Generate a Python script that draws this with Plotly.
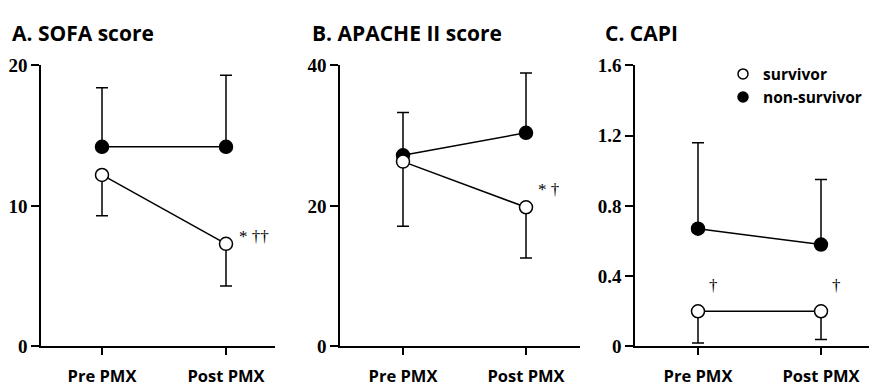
import plotly.graph_objects as go

W, H = 869, 391

# ---------------- data ----------------
groups = ["Pre PMX", "Post PMX"]

sofa_surv = [12.2, 7.3]
sofa_surv_sd = [2.9, 3.0]
sofa_non = [14.2, 14.2]
sofa_non_sd = [4.2, 5.1]

apache_surv = [26.3, 19.8]
apache_surv_sd = [9.2, 7.2]
apache_non = [27.2, 30.4]
apache_non_sd = [6.1, 8.5]

capi_surv = [0.20, 0.20]
capi_surv_sd = [0.18, 0.16]
capi_non = [0.67, 0.58]
capi_non_sd = [0.49, 0.37]

titles = ["A. SOFA score", "B. APACHE II score", "C. CAPI"]
yticks_a = [0, 10, 20]
yticks_b = [0, 20, 40]
yticks_c = [0, 0.4, 0.8, 1.2, 1.6]
yticktext_c = ["0", "0.4", "0.8", "1.2", "1.6"]
marks_a = ["", "* ††"]
marks_b = ["", "* †"]
marks_c = ["†", "†"]
legend_names = ["survivor", "non-survivor"]

# ---------------- layout helpers ----------------
def px_x(p):
    return p / W

def px_y(p):
    return (H - p) / H

Y_TOP, Y_BOT = 58.5, 355.5
panels = [
    # axis-left px, axis-right px, pre tick px, post tick px, title x px
    dict(l=41, r=275, pre=102, post=226, tx=10),
    dict(l=340, r=580, pre=403, post=526, tx=310),
    dict(l=635, r=869, pre=698, post=821, tx=603),
]

TITLE_FONT = dict(family="Open Sans", size=21, color="black", weight="bold")
XTICK_FONT = dict(family="Open Sans", size=16.5, color="black", weight="bold")
YTICK_FONT = dict(family="Liberation Serif", size=19, color="black", weight="bold")
MARK_FONT = dict(family="Liberation Serif", size=17, color="black")

fig = go.Figure()

datasets = [
    (sofa_surv, sofa_surv_sd, sofa_non, sofa_non_sd),
    (apache_surv, apache_surv_sd, apache_non, apache_non_sd),
    (capi_surv, capi_surv_sd, capi_non, capi_non_sd),
]
xs = [0, 1]

for i, (surv, surv_sd, non, non_sd) in enumerate(datasets):
    suffix = "" if i == 0 else str(i + 1)
    xa, ya = "x" + suffix, "y" + suffix
    fig.add_trace(go.Scatter(
        x=xs, y=non, xaxis=xa, yaxis=ya, mode="lines+markers",
        line=dict(color="black", width=1.5),
        marker=dict(symbol="circle", size=13, color="black",
                    line=dict(color="black", width=1.5)),
        error_y=dict(type="data", symmetric=False, array=non_sd,
                     arrayminus=[0] * len(non_sd), color="black",
                     thickness=1.5, width=6),
        showlegend=False, hoverinfo="skip"))
    fig.add_trace(go.Scatter(
        x=xs, y=surv, xaxis=xa, yaxis=ya, mode="lines+markers",
        line=dict(color="black", width=1.5),
        marker=dict(symbol="circle", size=13, color="white",
                    line=dict(color="black", width=1.5)),
        error_y=dict(type="data", symmetric=False, array=[0] * len(surv_sd),
                     arrayminus=surv_sd, color="black",
                     thickness=1.5, width=6),
        showlegend=False, hoverinfo="skip"))

# legend-only traces
fig.add_trace(go.Scatter(x=[None], y=[None], xaxis="x3", yaxis="y3", mode="markers",
                         name=legend_names[0],
                         marker=dict(size=10, color="white", line=dict(color="black", width=1.5))))
fig.add_trace(go.Scatter(x=[None], y=[None], xaxis="x3", yaxis="y3", mode="markers",
                         name=legend_names[1],
                         marker=dict(size=10, color="black", line=dict(color="black", width=1.5))))

yranges = [[0, 20], [0, 40], [0, 1.6]]
ytickvals = [yticks_a, yticks_b, yticks_c]
ytexts = [[str(v) for v in yticks_a], [str(v) for v in yticks_b], yticktext_c]

layout = dict(
    width=W, height=H, autosize=False,
    margin=dict(l=0, r=0, t=0, b=0),
    paper_bgcolor="white", plot_bgcolor="white",
    showlegend=True,
    legend=dict(x=px_x(723), y=px_y(50), xanchor="left", yanchor="top",
                font=dict(family="Open Sans", size=15.5, color="black", weight="bold"),
                bgcolor="rgba(0,0,0,0)", borderwidth=0, tracegroupgap=0,
                itemwidth=30),
)

annotations = []
for i, p in enumerate(panels):
    suffix = "" if i == 0 else str(i + 1)
    span = p["post"] - p["pre"]
    left = 0 - (p["pre"] - p["l"]) / span
    right = 1 + (p["r"] - p["post"]) / span
    layout["xaxis" + suffix] = dict(
        domain=[px_x(p["l"]), px_x(p["r"])], range=[left, right],
        anchor="y" + suffix, showline=True, linecolor="black", linewidth=1.5,
        ticks="outside", ticklen=7, tickwidth=1.5, tickcolor="black",
        tickvals=xs, ticktext=groups, tickfont=XTICK_FONT, ticklabelstandoff=7,
        showgrid=False, zeroline=False, fixedrange=True)
    layout["yaxis" + suffix] = dict(
        domain=[px_y(Y_BOT), px_y(Y_TOP)], range=yranges[i],
        anchor="x" + suffix, showline=True, linecolor="black", linewidth=1.5,
        ticks="outside", ticklen=8, tickwidth=1.5, tickcolor="black",
        tickvals=ytickvals[i], ticktext=ytexts[i], tickfont=YTICK_FONT,
        showgrid=False, zeroline=False, fixedrange=True)
    annotations.append(dict(
        text=titles[i], xref="paper", yref="paper", x=px_x(p["tx"]), y=px_y(24),
        xanchor="left", yanchor="middle", showarrow=False, font=TITLE_FONT))

# significance marks
for k, (m, v) in enumerate(zip(marks_a, sofa_surv)):
    if m:
        annotations.append(dict(text=m, xref="x", yref="y", x=xs[k], y=v,
                                xanchor="left", yanchor="middle", xshift=11, yshift=7,
                                showarrow=False, font=MARK_FONT))
for k, (m, v) in enumerate(zip(marks_b, apache_surv)):
    if m:
        annotations.append(dict(text=m, xref="x2", yref="y2", x=xs[k], y=v,
                                xanchor="left", yanchor="middle", xshift=10, yshift=18,
                                showarrow=False, font=MARK_FONT))
for k, (m, v) in enumerate(zip(marks_c, capi_surv)):
    if m:
        annotations.append(dict(text=m, xref="x3", yref="y3", x=xs[k], y=v,
                                xanchor="center", yanchor="middle", xshift=15, yshift=26,
                                showarrow=False, font=MARK_FONT))

layout["annotations"] = annotations
fig.update_layout(**layout)
fig.write_html("out.html", config={"displayModeBar": False},
               post_script="document.body.style.margin='0';document.body.style.overflow='hidden';")
